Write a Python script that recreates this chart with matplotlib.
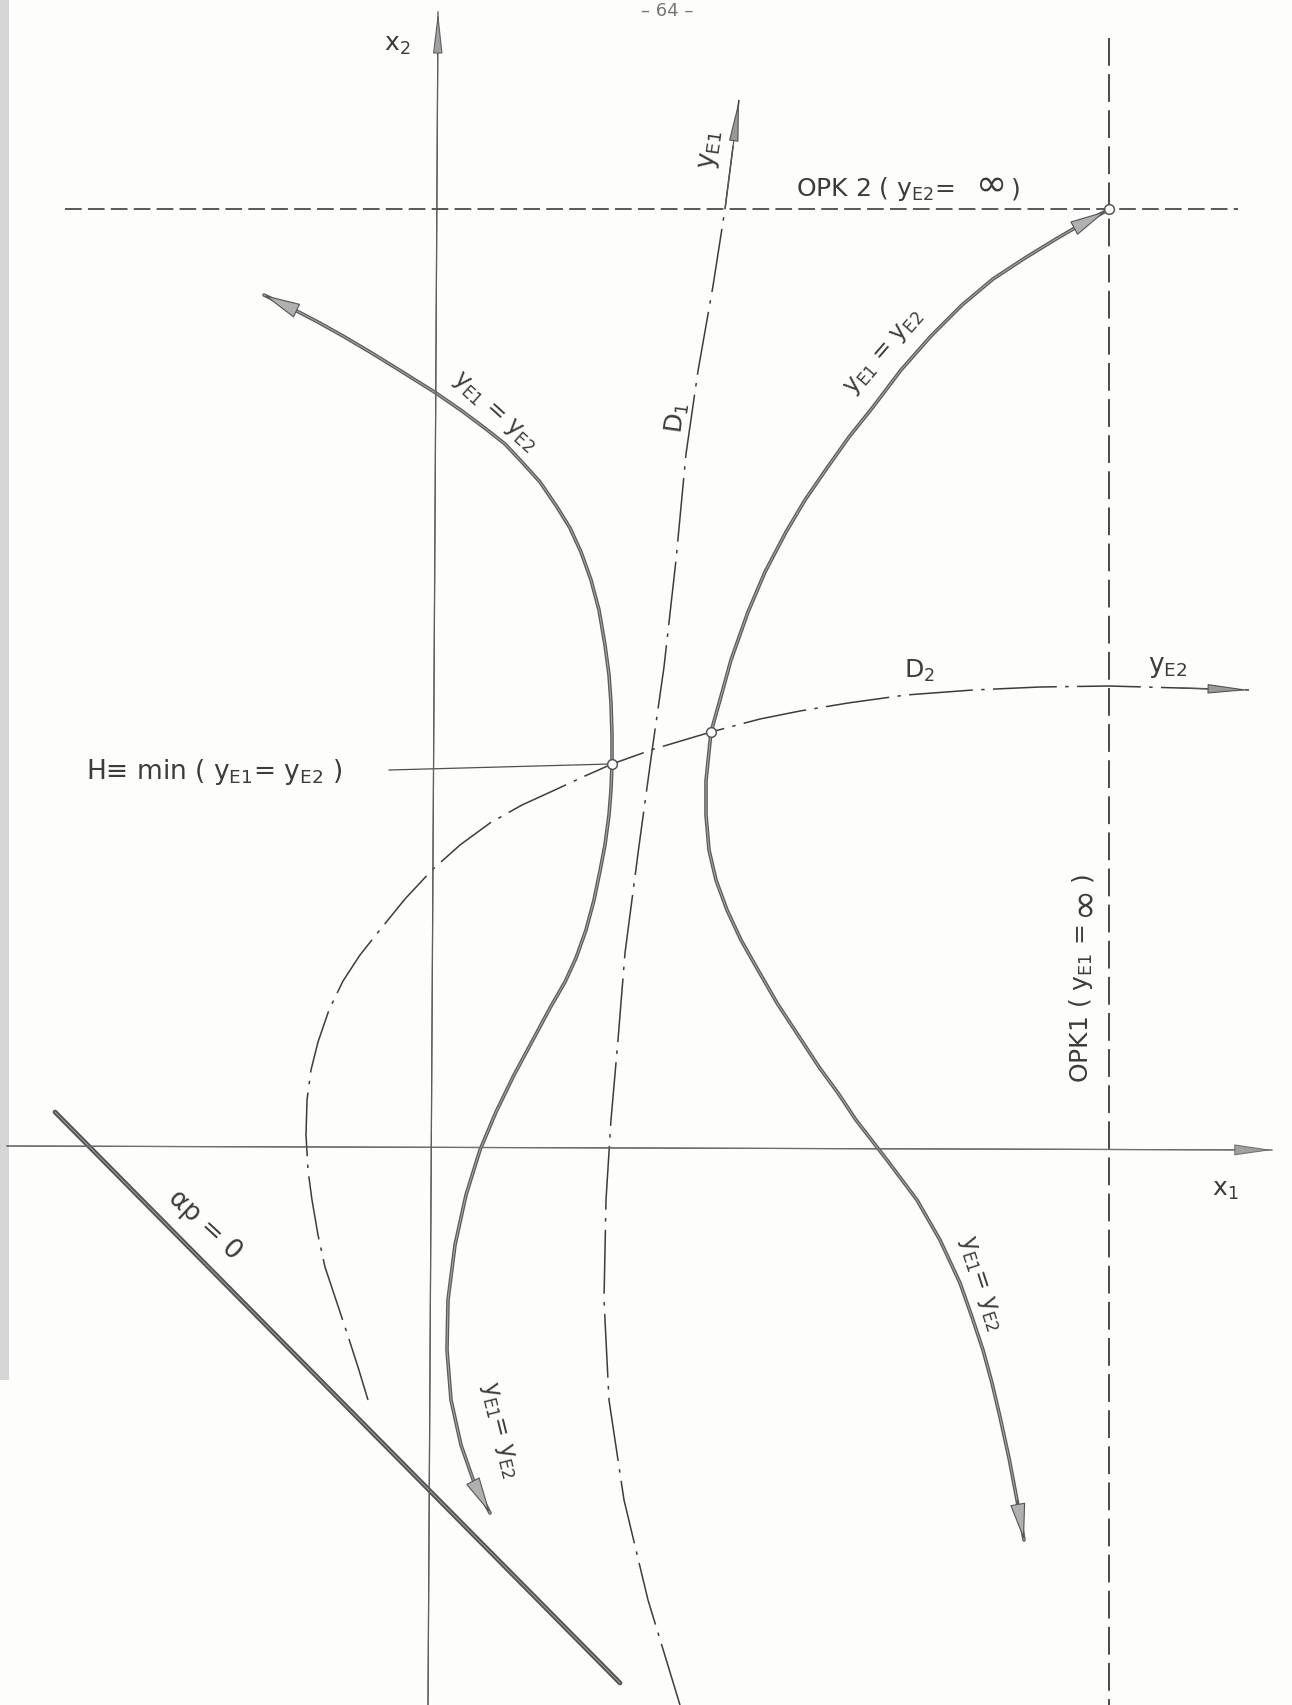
import matplotlib
matplotlib.use('Agg')
import matplotlib.pyplot as plt
from matplotlib.patches import FancyArrowPatch, Rectangle

plt.rcParams['lines.scale_dashes'] = False
plt.rcParams['font.family'] = ['DejaVu Sans']
plt.rcParams['mathtext.fontset'] = 'dejavusans'

# points (page pixels, 1292 x 1705, y down)
left_curve_x = [264, 289, 316, 343, 370, 396, 436, 462, 486, 505, 521, 540, 557, 570, 581, 591,
                599, 605, 609, 611, 612, 612, 611, 609, 605, 600, 594, 586, 576, 565, 550, 535,
                514, 496, 480, 466, 455, 448, 447, 451, 461, 475, 490]
left_curve_y = [295, 307, 321, 336, 352, 368, 393, 411, 429, 444, 461, 482, 507, 528, 552, 580,
                610, 645, 675, 703, 735, 764, 790, 815, 845, 871, 900, 930, 958, 982, 1008, 1036,
                1075, 1112, 1150, 1195, 1245, 1300, 1350, 1400, 1445, 1485, 1513]

right_curve_x = [1106, 1080, 1056, 1025, 993, 962, 931, 901, 873, 849, 827, 805, 786, 765, 748,
                 731, 720, 711, 706, 706, 709, 716, 727, 741, 758, 777, 798, 819, 838, 856, 887,
                 917, 940, 960, 972, 983, 992, 1000, 1009, 1017, 1024]
right_curve_y = [211, 225, 239, 258, 279, 305, 336, 370, 407, 437, 468, 500, 532, 572, 612,
                 660, 700, 732, 781, 815, 850, 880, 910, 940, 970, 1003, 1035, 1067, 1093, 1120, 1160,
                 1200, 1240, 1283, 1317, 1350, 1383, 1417, 1458, 1500, 1540]

d1_x = [680, 648, 624, 609, 604, 606, 611, 618, 625, 639, 652, 664, 676, 686, 698, 713, 725, 739]
d1_y = [1705, 1600, 1500, 1400, 1300, 1200, 1120, 1040, 953, 846, 751, 667, 560, 454, 371, 286, 209, 100]

d2_x = [368, 358, 347, 336, 325, 318, 312, 308, 306, 307, 311, 318, 329, 343, 360, 379, 405, 432,
        460, 490, 522, 557, 585, 612, 654, 711, 760, 800, 848, 906, 973, 1040, 1109, 1180, 1249]
d2_y = [1400, 1367, 1333, 1300, 1267, 1235, 1200, 1170, 1135, 1100, 1070, 1042, 1010, 981, 955, 931,
        899, 870, 845, 823, 805, 789, 776, 764, 749, 732, 719, 711, 703, 695, 690, 687, 686, 688, 690]

alpha_line_x = [55, 620]
alpha_line_y = [1112, 1683]

x1_axis_x = [7, 1272]
x1_axis_y = [1146, 1150]
x2_axis_x = [428, 438]
x2_axis_y = [1705, 12]

opk1_x = [1109, 1109]
opk1_y = [38, 1705]
opk2_x = [65, 1238]
opk2_y = [209, 209]

h_lead_x = [389, 611]
h_lead_y = [770, 764]

marked_x = [612, 711, 1109]
marked_y = [764, 732, 209]

ink = '#3c3c3c'

fig = plt.figure(figsize=(12.92, 17.05), dpi=100)
fig.patch.set_facecolor('#fdfdfc')
ax = fig.add_axes([0, 0, 1, 1])
ax.set_xlim(0, 1292)
ax.set_ylim(1705, 0)
ax.axis('off')

# scanner shadow on the left edge
ax.add_patch(Rectangle((0, 0), 9, 1380, color='#d6d6d6', lw=0))


def head(xs, ys, color, hl, hw, lw=0.8, fc=None):
    a = FancyArrowPatch((xs[-2], ys[-2]), (xs[-1], ys[-1]),
                        arrowstyle=f'-|>,head_length={hl},head_width={hw}',
                        mutation_scale=10, lw=lw, shrinkA=0, shrinkB=0,
                        edgecolor=color, facecolor=fc or color, zorder=5)
    ax.add_patch(a)


# axes
ax.plot(x1_axis_x, x1_axis_y, color='#505050', lw=0.9)
ax.plot(x2_axis_x, x2_axis_y, color='#505050', lw=0.9)
head(x1_axis_x, x1_axis_y, '#707070', 2.4, 0.35, fc='#a0a0a0')
head(x2_axis_x, x2_axis_y, '#606060', 2.6, 0.3, fc='#a0a0a0')

# asymptotes OPK1 / OPK2
ax.plot(opk1_x, opk1_y, color=ink, lw=1.3, dashes=(20, 6))
ax.plot(opk2_x, opk2_y, color=ink, lw=1.2, dashes=(12, 4.5))

# D1 and D2, dash-dot
ax.plot(d1_x, d1_y, color=ink, lw=1.1, dashes=(46, 6, 2.5, 6))
ax.plot(d2_x, d2_y, color=ink, lw=1.1, dashes=(46, 6, 2.5, 6))
head(d1_x, d1_y, '#555555', 2.6, 0.3, fc='#999999')
head(d2_x, d2_y, '#555555', 2.6, 0.3, fc='#999999')

# y_E1 = y_E2 curves
for xs, ys in [(left_curve_x, left_curve_y), (right_curve_x, right_curve_y)]:
    ax.plot(xs, ys, color='#5a5a5a', lw=2.6, solid_capstyle='round', solid_joinstyle='round')
    ax.plot(xs, ys, color='#a5a5a5', lw=0.8, solid_joinstyle='round')
head(left_curve_x[::-1], left_curve_y[::-1], '#555555', 2.4, 0.5, fc='#b0b0b0')
head(left_curve_x, left_curve_y, '#555555', 2.4, 0.5, fc='#b0b0b0')
head(right_curve_x[::-1], right_curve_y[::-1], '#555555', 2.4, 0.5, fc='#b0b0b0')
head(right_curve_x, right_curve_y, '#555555', 2.4, 0.5, fc='#b0b0b0')

# alpha_p = 0 line
ax.plot(alpha_line_x, alpha_line_y, color='#505050', lw=3.4, solid_capstyle='round')
ax.plot(alpha_line_x, alpha_line_y, color='#959595', lw=0.9)

# leader line to H
ax.plot(h_lead_x, h_lead_y, color='#505050', lw=0.9)

ax.plot(marked_x, marked_y, 'o', ms=7, mfc='white', mec='#555555', mew=1.1, zorder=6)

# texts
tk = dict(color=ink, ha='center', va='center')
E1 = r'$_{\mathrm{E1}}$'
E2 = r'$_{\mathrm{E2}}$'
ax.text(667, 2, '– 64 –', fontsize=13, color='#777777', ha='center', va='top')
ax.text(397, 45, 'x$_{2}$', fontsize=18, **tk)
ax.text(1225, 1190, 'x$_{1}$', fontsize=18, **tk)

# OPK 2 label, with the large infinity sign of the lettering stencil
ax.text(796, 189, 'OPK 2 ( y' + E2 + '=', fontsize=18, color=ink, ha='left', va='center')
ax.text(992, 186, '∞', fontsize=27, **tk)
ax.text(1016, 189, ')', fontsize=18, **tk)

# OPK1 label, vertical
ax.text(1081, 1083, 'OPK1 ( y' + E1 + ' =', fontsize=18, color=ink, rotation=90,
        ha='center', va='bottom')
ax.text(1083, 900, '∞', fontsize=27, rotation=90, **tk)
ax.text(1081, 876, ')', fontsize=18, rotation=90, **tk)

ax.text(214, 772, 'H≡ min ( y' + E1 + '= y' + E2 + ' )', fontsize=19, **tk)
ax.text(919, 671, 'D$_{2}$', fontsize=18, **tk)
ax.text(1168, 667, 'y' + E2, fontsize=19, **tk)
ax.text(711, 150, 'y' + E1, fontsize=19, rotation=82, **tk)
ax.text(677, 418, 'D$_{1}$', fontsize=18, rotation=82, **tk)
ax.text(495, 412, 'y' + E1 + ' = y' + E2, fontsize=17, rotation=-42, **tk)
ax.text(884, 352, 'y' + E1 + ' = y' + E2, fontsize=17, rotation=49, **tk)
ax.text(981, 1283, 'y' + E1 + '= y' + E2, fontsize=17, rotation=-72, **tk)
ax.text(500, 1430, 'y' + E1 + '= y' + E2, fontsize=17, rotation=-76, **tk)
ax.text(205, 1225, 'αp = 0', fontsize=19, rotation=-43, **tk)

fig.savefig('out.png', dpi=100, facecolor=fig.get_facecolor())
